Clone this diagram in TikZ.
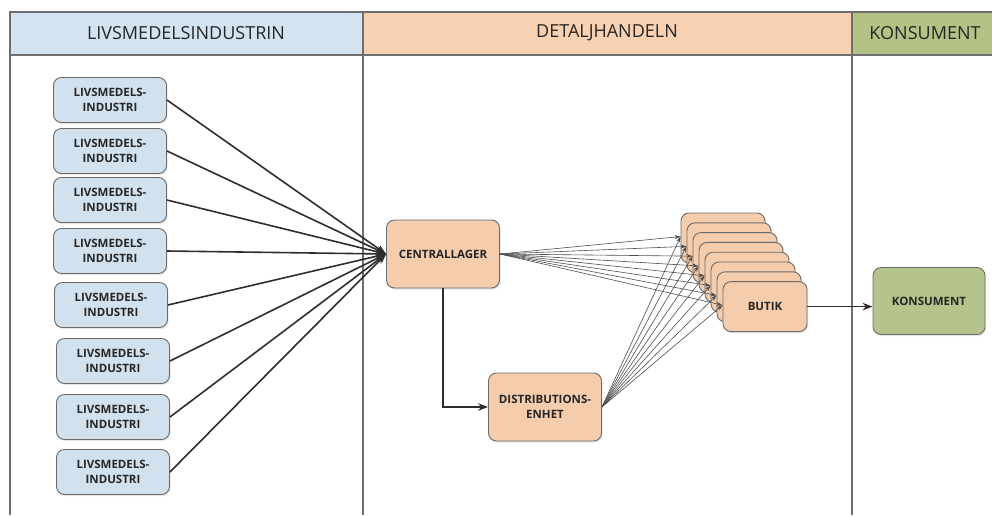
\documentclass[tikz,border=0pt]{standalone}
\usepackage{fontspec}
\setmainfont{Open Sans}
\usetikzlibrary{arrows.meta,shadows,calc}

\definecolor{lanegray}{HTML}{6E6E6E}
\definecolor{hdrblue}{HTML}{D3E3F1}
\definecolor{hdrpeach}{HTML}{F8D1B2}
\definecolor{hdrgreen}{HTML}{B3C386}
\definecolor{indfill}{HTML}{D2E1EE}
\definecolor{peachfill}{HTML}{F6CDAC}
\definecolor{greenfill}{HTML}{B5C48A}
\definecolor{boxline}{HTML}{6A6A6A}
\definecolor{wire}{HTML}{2E2E2E}

\tikzset{
  lane/.style={draw=lanegray, line width=1.4pt},
  hdrtext/.style={font=\fontsize{18}{21}\selectfont, text=black!85},
  boxfont/.style={font=\bfseries\fontsize{11.5}{15.5}\selectfont, text=black!85},
  box/.style={draw=boxline, line width=0.9pt, rounded corners=8pt,
    align=center, inner sep=0pt, boxfont,
    drop shadow={opacity=0.2, shadow xshift=1.2pt, shadow yshift=-1.6pt}},
  indbox/.style={box, fill=indfill, minimum width=113pt, minimum height=45pt},
  peachbox/.style={box, fill=peachfill, minimum width=113pt, minimum height=68pt},
  butikbox/.style={box, fill=peachfill, minimum width=84pt, minimum height=50pt},
  greenbox/.style={box, fill=greenfill, minimum width=112pt, minimum height=67pt},
  bigarrow/.style={draw=wire, line width=1.6pt, -{Stealth[length=10pt,width=7.5pt]}},
  fan/.style={draw=wire!85, line width=0.6pt, -{Stealth[length=6pt,width=4pt]}}
}

\begin{document}
\begin{tikzpicture}[x=1pt,y=-1pt]
\useasboundingbox (0,0) rectangle (992,515);

% swimlane headers
\fill[hdrblue]  (10,12) rectangle (363,55);
\fill[hdrpeach] (363,12) rectangle (852,55);
\fill[hdrgreen] (852,12) rectangle (992,55);
\draw[lane] (992,12) -- (10,12) -- (10,515);
\draw[lane] (10,55) -- (992,55);
\draw[lane] (363,12) -- (363,515);
\draw[lane] (852,12) -- (852,515);
\node[hdrtext] (h1) at (186,33) {LIVSMEDELSINDUSTRIN};
\node[hdrtext] (h2) at (607,33) {DETALJHANDELN};
\node[hdrtext] (h3) at (925,33) {KONSUMENT};

% food industry
\node[indbox] (i1) at (110,100) {LIVSMEDELS-\\INDUSTRI};
\node[indbox] (i2) at (110,151) {LIVSMEDELS-\\INDUSTRI};
\node[indbox] (i3) at (110,200) {LIVSMEDELS-\\INDUSTRI};
\node[indbox] (i4) at (110,251) {LIVSMEDELS-\\INDUSTRI};
\node[indbox] (i5) at (111,305) {LIVSMEDELS-\\INDUSTRI};
\node[indbox] (i6) at (113,361) {LIVSMEDELS-\\INDUSTRI};
\node[indbox] (i7) at (113,417) {LIVSMEDELS-\\INDUSTRI};
\node[indbox] (i8) at (113,472) {LIVSMEDELS-\\INDUSTRI};

% retail
\node[peachbox] (cl) at (443,254) {CENTRALLAGER};
\node[peachbox] (dist) at (545,407) {DISTRIBUTIONS-\\ENHET};

% stacked shops, back to front
\foreach \k in {0,...,7} {
  \node[butikbox] (b\k) at ({723+6*\k},{238+9.8*\k}) {};
}
\node[boxfont] (blabel) at (b7) {BUTIK};

% consumer
\node[greenbox] (kons) at (929,301) {KONSUMENT};

% industry to central warehouse
\foreach \k in {1,...,8} {
  \draw[bigarrow] (i\k.east) -- (cl.west);
}

% central warehouse to distribution unit
\draw[bigarrow] (cl.south) |- (dist.west);

% deliveries to each shop
\foreach \k in {0,...,7} {
  \coordinate (t\k) at ($(b\k.north west)+(0,24)$);
  \draw[fan] (cl.east) -- (t\k);
  \draw[fan] (dist.east) -- (t\k);
}

% shop to consumer
\draw[bigarrow] (b7.east) -- (b7.east -| kons.west);
\end{tikzpicture}
\end{document}
